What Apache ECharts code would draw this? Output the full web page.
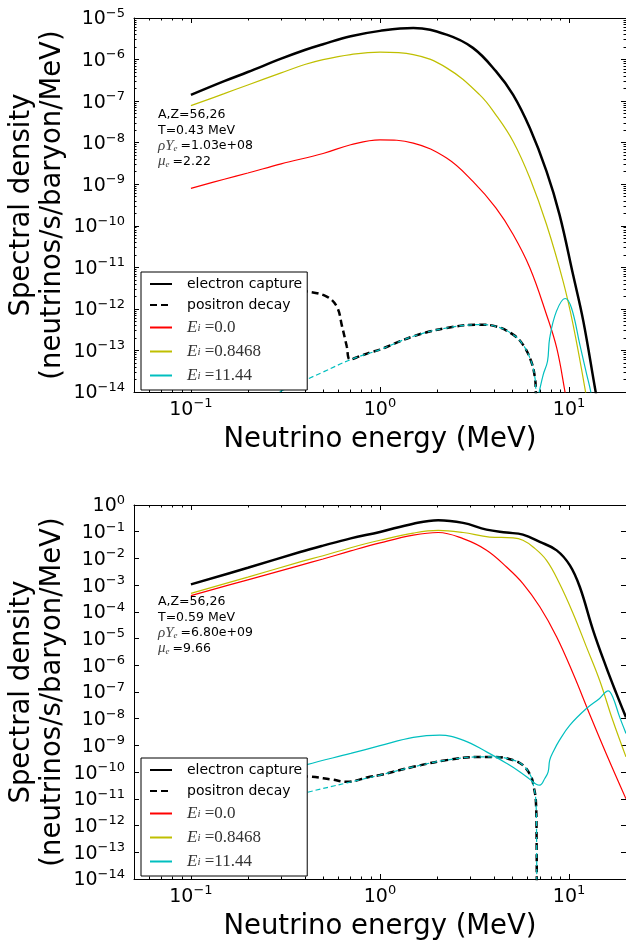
<!DOCTYPE html>
<html><head><meta charset="utf-8">
<script src="https://cdn.jsdelivr.net/npm/echarts@6/dist/echarts.min.js"></script>
<style>html,body{margin:0;padding:0;background:#fff}#c{width:626px;height:943px}</style>
</head><body><div id="c"></div>
<script>
// ---------- axis ticks / labels ----------
const X_MIN = 0.05, X_MAX = 20;
const xMajorTicks = [0.1, 1, 10];
const xMinorTicks = [0.06,0.07,0.08,0.09,0.2,0.3,0.4,0.5,0.6,0.7,0.8,0.9,2,3,4,5,6,7,8,9];
const topYExponents = [-14,-13,-12,-11,-10,-9,-8,-7,-6,-5];
const botYExponents = [-14,-13,-12,-11,-10,-9,-8,-7,-6,-5,-4,-3,-2,-1,0];
const minorMultipliers = [2,3,4,5,6,7,8,9];
const legendNames = ['electron capture','positron decay','E_i=0.0','E_i=0.8468','E_i=11.44'];
const eiValues = ['0.0','0.8468','11.44'];
const yTitle = 'Spectral density\n(neutrinos/s/baryon/MeV)';
const xTitle = 'Neutrino energy (MeV)';
const topNote = ['A,Z=56,26','T=0.43 MeV','1.03e+08','2.22'];
const botNote = ['A,Z=56,26','T=0.59 MeV','6.80e+09','9.66'];

// ---------- top panel (T=0.43 MeV) ----------
const topEcTotalE = [0.1,0.15,0.2,0.3,0.4,0.5,0.7,1.0,1.5,2.25,3.1,4.1,5.06,6.2,7.6,8.9,10.5,11.9,13.8,14.5];
const topEcTotalV = [1.41e-7,3.02e-7,5.01e-7,1.05e-6,1.70e-6,2.34e-6,3.63e-6,4.90e-6,5.75e-6,3.98e-6,1.91e-6,5.25e-7,1.41e-7,2.24e-8,2.04e-9,1.86e-10,6.61e-12,5.01e-13,1.05e-14,3.16e-15];
const topPdTotalE = [0.1,0.2,0.3,0.41,0.52,0.59,0.63,0.667,0.695,0.78,0.885,1.0,1.5,2.25,3.37,4.1,5.06,5.7,6.3,6.6,6.67,6.72];
const topPdTotalV = [3.55e-12,3.31e-12,3.02e-12,2.63e-12,2.00e-12,1.15e-12,3.80e-13,1.26e-13,6.03e-14,7.24e-14,8.91e-14,1.05e-13,2.19e-13,3.47e-13,4.17e-13,3.80e-13,2.40e-13,1.38e-13,5.50e-14,2.19e-14,1.05e-14,2.51e-15];
const topEcRedE = [0.1,0.15,0.2,0.3,0.5,0.7,1.0,1.5,2.25,3.1,4.1,5.06,6.2,7.6,8.6,9.5,10];
const topEcRedV = [7.94e-10,1.32e-9,1.86e-9,3.09e-9,5.50e-9,8.91e-9,1.17e-8,9.77e-9,4.27e-9,1.17e-9,2.69e-10,6.17e-11,9.77e-12,7.24e-13,1.15e-13,1.05e-14,2.51e-15];
const topEcYellowE = [0.1,0.15,0.2,0.3,0.4,0.5,0.7,1.0,1.5,2.25,3.37,4.1,5.06,6.2,7.6,9.3,10.5,12.2,13];
const topEcYellowV = [7.76e-8,1.51e-7,2.45e-7,4.79e-7,7.59e-7,1.00e-6,1.32e-6,1.51e-6,1.32e-6,6.31e-7,1.41e-7,4.68e-8,1.07e-8,1.41e-9,1.07e-10,4.57e-12,4.17e-13,1.05e-14,1.58e-15];
const topEcCyanE = [6.5,6.95,7.3,7.69,7.9,8.57,9.53,10.3,11.4,12.4,13.0,13.5];
const topEcCyanV = [2.51e-15,1.0e-14,2.63e-14,5.50e-14,2.00e-13,8.71e-13,1.78e-12,1.05e-12,1.38e-13,2.63e-14,1.05e-14,3.98e-15];
const topPdCyanE = [0.25,0.3,0.4,0.5,0.7,1.0,1.5,2.25,3.37,4.1,5.06,5.7,6.3,6.6,6.67,6.72];
const topPdCyanV = [6.31e-15,1.05e-14,1.91e-14,3.02e-14,6.03e-14,1.05e-13,2.19e-13,3.47e-13,4.17e-13,3.80e-13,2.40e-13,1.38e-13,5.50e-14,2.19e-14,1.05e-14,2.51e-15];

// ---------- bottom panel (T=0.59 MeV) ----------
const botEcTotalE = [0.1,0.2,0.378,0.5,0.7,1.0,1.5,2.03,2.75,3.66,4.67,5.7,7.0,8.6,10.1,11.4,13.4,15.7,17.8,20];
const botEcTotalV = [1.07e-3,4.47e-3,1.74e-2,3.02e-2,5.62e-2,9.77e-2,0.200,0.269,0.214,0.120,9.33e-2,7.76e-2,4.17e-2,2.00e-2,5.50e-3,8.51e-4,2.04e-5,8.71e-7,8.71e-8,1.12e-8];
const botPdTotalE = [0.1,0.2,0.41,0.55,0.67,0.885,1.0,1.5,2.25,3.37,4.1,5.06,5.7,6.3,6.5,6.67,6.73,6.75];
const botPdTotalV = [8.91e-11,7.94e-11,6.92e-11,5.37e-11,4.37e-11,6.76e-11,7.76e-11,1.58e-10,2.82e-10,3.72e-10,3.72e-10,2.82e-10,1.82e-10,6.76e-11,2.82e-11,8.91e-12,5.01e-13,1.0e-15];
const botEcRedE = [0.1,0.2,0.378,0.5,0.7,1.0,1.5,2.03,2.75,3.66,4.67,5.7,7.0,8.6,10.5,12.8,15.7,20];
const botEcRedV = [4.07e-4,1.58e-3,5.50e-3,9.55e-3,1.91e-2,3.80e-2,7.41e-2,9.33e-2,5.50e-2,2.04e-2,4.79e-3,1.15e-3,1.55e-4,1.15e-5,4.90e-7,1.58e-8,5.01e-10,1.00e-11];
const botEcYellowE = [0.1,0.2,0.378,0.5,0.7,1.0,1.5,2.03,2.75,3.8,5.06,5.7,6.45,7.6,8.9,10.5,12.35,14.5,17.0,20];
const botEcYellowV = [4.90e-4,2.00e-3,7.41e-3,1.26e-2,2.51e-2,4.79e-2,8.91e-2,0.112,9.33e-2,6.31e-2,5.89e-2,4.79e-2,2.69e-2,8.51e-3,1.15e-3,8.71e-5,4.90e-6,2.75e-7,8.91e-9,3.72e-10];
const botEcCyanE = [0.1,0.2,0.41,0.7,1.0,1.5,2.07,2.75,3.66,4.67,5.5,6.2,6.7,7.0,7.45,7.75,7.9,8.24,8.9,10.1,12.35,14.5,16.1,17.0,18.5,20];
const botEcCyanV = [1.26e-11,4.47e-11,1.91e-10,5.01e-10,9.77e-10,2.00e-9,2.45e-9,1.58e-9,5.75e-10,2.14e-10,1.02e-10,5.37e-11,3.55e-11,3.24e-11,5.89e-11,1.02e-10,2.82e-10,5.75e-10,1.58e-9,5.75e-9,2.40e-8,5.75e-8,1.10e-7,6.61e-8,1.17e-8,2.82e-9];
const botPdCyanE = [0.1,0.2,0.41,0.67,1.0,1.5,2.25,3.37,4.1,5.06,5.7,6.3,6.5,6.67,6.73,6.75];
const botPdCyanV = [1.58e-12,4.79e-12,1.74e-11,3.98e-11,7.76e-11,1.58e-10,2.82e-10,3.72e-10,3.72e-10,2.82e-10,1.82e-10,6.76e-11,2.82e-11,8.91e-12,5.01e-13,1.0e-15];

// ---------- styling ----------
const BLACK = '#000000', RED = '#ff0000', YEL = '#bfbf00', CYAN = '#00bfbf';
const FONT = 'DejaVu Sans';
const MATH = 'Liberation Serif';

function nudge(list){
  const out = list.slice();
  out[0] = out[0] * 1.000001;
  out[out.length - 1] = out[out.length - 1] * 0.999999;
  return out;
}
function pow10list(exps){ return exps.map(e => Math.pow(10, e)); }
function minorList(exps){
  const out = [];
  for (let i = 0; i < exps.length - 1; i++) minorMultipliers.forEach(m => out.push(m * Math.pow(10, exps[i])));
  return out;
}
function sup(v){
  const e = Math.round(Math.log10(v));
  return '{b|10}{s|' + (e < 0 ? '\u2212' + (-e) : String(e)) + '}';
}
const supRich = {
  b: {fontFamily: FONT, fontSize: 19, color: '#000', lineHeight: 22, verticalAlign: 'bottom'},
  s: {fontFamily: FONT, fontSize: 13, color: '#000', lineHeight: 2, verticalAlign: 'top'}
};

function baseAxis(grid, pos, min, max, ticks, len){
  return {
    type: 'log', logBase: 10, gridIndex: grid, position: pos, min: min, max: max,
    axisLine: {show: true, onZero: false, lineStyle: {color: '#000', width: 1}},
    axisTick: {show: true, inside: true, length: len, customValues: ticks, lineStyle: {color: '#000', width: 1}},
    axisLabel: {show: false},
    splitLine: {show: false}, minorTick: {show: false}, minorSplitLine: {show: false},
    axisPointer: {show: false}
  };
}

function xAxes(grid){
  const main = baseAxis(grid, 'bottom', X_MIN, X_MAX, xMajorTicks, 5);
  main.axisLabel = {show: true, customValues: xMajorTicks, margin: 5.5, formatter: sup, rich: supRich,
                    showMinLabel: true, showMaxLabel: true, hideOverlap: false};
  main.name = xTitle;
  main.nameLocation = 'middle';
  main.nameGap = 33;
  main.nameTextStyle = {fontFamily: FONT, fontSize: 27.5, color: '#000', lineHeight: 30};
  const minor = baseAxis(grid, 'bottom', X_MIN, X_MAX, xMinorTicks, 2.5);
  minor.axisLine.show = false;
  const top = baseAxis(grid, 'top', X_MIN, X_MAX, xMajorTicks, 5);
  const topMinor = baseAxis(grid, 'top', X_MIN, X_MAX, xMinorTicks, 2.5);
  topMinor.axisLine.show = false;
  return [main, minor, top, topMinor];
}

function yAxes(grid, exps, withMinor){
  const min = Math.pow(10, exps[0]), max = Math.pow(10, exps[exps.length - 1]);
  const major = nudge(pow10list(exps));
  const main = baseAxis(grid, 'left', min, max, major, 5);
  main.axisLabel = {show: true, customValues: major, margin: 9, formatter: sup, rich: supRich,
                    showMinLabel: true, showMaxLabel: true, hideOverlap: false};
  const right = baseAxis(grid, 'right', min, max, major, 5);
  const out = [main, right];
  if (withMinor) {
    const mn = minorList(exps);
    const lm = baseAxis(grid, 'left', min, max, mn, 2.5); lm.axisLine.show = false;
    const rm = baseAxis(grid, 'right', min, max, mn, 2.5); rm.axisLine.show = false;
    out.push(lm, rm);
  }
  return out;
}

function line(name, xs, ys, color, width, dash, xi, yi){
  return {
    type: 'line', name: name, xAxisIndex: xi, yAxisIndex: yi,
    data: xs.map((x, i) => [x, ys[i]]),
    symbol: 'none', showSymbol: false, smooth: 0.4, clip: true,
    lineStyle: {color: color, width: width, type: dash || 'solid'},
    itemStyle: {color: color}, emphasis: {disabled: true}, silent: true
  };
}

const legendText = {};
legendText[legendNames[0]] = '{t|electron capture}';
legendText[legendNames[1]] = '{t|positron decay}';
eiValues.forEach((v, i) => { legendText[legendNames[i + 2]] = '{e|E}{i|i}{v| =' + v + '}'; });

function legend(top){
  return {
    orient: 'vertical', left: 141, top: top, itemWidth: 22, itemHeight: 14, itemGap: 7,
    padding: [5, 5, 6, 8], backgroundColor: '#fff', borderColor: '#000', borderWidth: 1, borderRadius: 0,
    selectedMode: false, data: legendNames,
    itemStyle: {opacity: 0},
    formatter: n => legendText[n],
    textStyle: {
      rich: {
        t: {fontFamily: FONT, fontSize: 14, color: '#000', lineHeight: 14, padding: [0, 0, 0, 10]},
        e: {fontFamily: MATH, fontStyle: 'italic', fontSize: 17, color: '#333', lineHeight: 12, padding: [0, 0, 0, 10]},
        i: {fontFamily: MATH, fontStyle: 'italic', fontSize: 11, color: '#333', lineHeight: 4, verticalAlign: 'bottom'},
        v: {fontFamily: MATH, fontSize: 17, color: '#333', lineHeight: 12}
      }
    }
  };
}

function note(top, lines){
  const txt = lines[0] + '\n' + lines[1] + '\n{m|\u03c1Y}{sub|e}=' + lines[2] + '\n{m|\u03bc}{sub|e}=' + lines[3];
  return {
    type: 'text', left: 158, top: top, silent: true,
    style: {
      text: txt, fill: '#000', font: '12.5px "DejaVu Sans"', lineHeight: 15.5,
      rich: {
        m: {fontFamily: MATH, fontStyle: 'italic', fontSize: 15, fill: '#444', lineHeight: 15.5},
        sub: {fontFamily: MATH, fontStyle: 'italic', fontSize: 9, fill: '#444', lineHeight: 6, verticalAlign: 'bottom', padding: [0, 3, 0, 0]}
      }
    }
  };
}

function yName(cy){
  return {
    type: 'text', x: 37, y: cy, rotation: Math.PI / 2, silent: true,
    style: {text: yTitle, fill: '#000', font: '27.5px "DejaVu Sans"', lineHeight: 31, align: 'center', verticalAlign: 'middle'}
  };
}

const xA = xAxes(0).concat(xAxes(1));
const yA = yAxes(0, topYExponents, true).concat(yAxes(1, botYExponents, false));

const series = [
  line('electron capture', topEcTotalE, topEcTotalV, BLACK, 2.5, null, 0, 0),
  line('positron decay', topPdTotalE, topPdTotalV, BLACK, 2.5, [7, 4], 0, 0),
  line('E_i=0.0', topEcRedE, topEcRedV, RED, 1.2, null, 0, 0),
  line('E_i=0.8468', topEcYellowE, topEcYellowV, YEL, 1.2, null, 0, 0),
  line('E_i=11.44', topEcCyanE, topEcCyanV, CYAN, 1.2, null, 0, 0),
  line('E_i=11.44 positron', topPdCyanE, topPdCyanV, CYAN, 1.2, [5, 3], 0, 0),
  line('electron capture', botEcTotalE, botEcTotalV, BLACK, 2.5, null, 4, 4),
  line('positron decay', botPdTotalE, botPdTotalV, BLACK, 2.5, [7, 4], 4, 4),
  line('E_i=0.0', botEcRedE, botEcRedV, RED, 1.2, null, 4, 4),
  line('E_i=0.8468', botEcYellowE, botEcYellowV, YEL, 1.2, null, 4, 4),
  line('E_i=11.44', botEcCyanE, botEcCyanV, CYAN, 1.2, null, 4, 4),
  line('E_i=11.44 positron', botPdCyanE, botPdCyanV, CYAN, 1.2, [5, 3], 4, 4)
];

const chart = echarts.init(document.getElementById('c'), null, {renderer: 'canvas'});
chart.setOption({
  animation: false,
  backgroundColor: '#fff',
  textStyle: {fontFamily: FONT},
  grid: [
    {left: 134, top: 18, width: 492, height: 374, containLabel: false},
    {left: 134, top: 505, width: 492, height: 374, containLabel: false}
  ],
  xAxis: xA,
  yAxis: yA,
  legend: [legend(272), legend(758)],
  graphic: [note(107, topNote), note(594, botNote), yName(205), yName(692)],
  series: series
});
</script></body></html>
